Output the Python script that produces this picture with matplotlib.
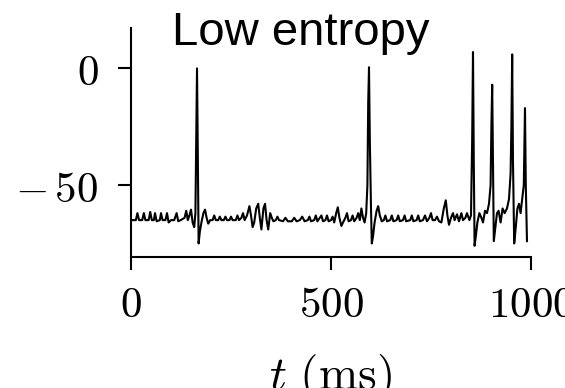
import matplotlib
matplotlib.use("Agg")
import matplotlib.pyplot as plt

plt.rcParams['mathtext.fontset'] = 'cm'

# membrane potential trace (ms, mV)
t_ms = [0, 5, 12, 16, 20, 28, 32, 36, 44, 48, 52, 57, 60, 64, 72, 75, 79, 86, 90, 94,
        100, 108, 114, 118, 124, 134, 138, 142, 146, 150, 154, 158, 161, 163, 165, 167,
        169, 172, 176, 181, 185, 189, 193, 198, 204, 208, 212, 218, 222, 226, 232, 236,
        240, 246, 250, 254, 262, 266, 270, 276, 280, 284, 290, 296, 300, 304, 308, 313,
        318, 322, 326, 331, 335, 339, 343, 348, 352, 356, 362, 366, 370, 380, 386, 392,
        402, 408, 414, 422, 428, 434, 442, 446, 450, 458, 462, 466, 472, 476, 480, 486,
        490, 494, 500, 504, 508, 513, 517, 521, 526, 530, 536, 540, 544, 550, 554, 558,
        564, 568, 572, 576, 580, 584, 588, 591, 593, 595, 597, 600, 602, 605, 609, 614,
        618, 622, 627, 632, 636, 640, 648, 652, 656, 664, 668, 672, 680, 684, 688, 698,
        702, 706, 714, 718, 722, 730, 735, 740, 746, 750, 754, 760, 765, 770, 776, 782,
        787, 791, 795, 800, 805, 809, 815, 820, 826, 830, 836, 840, 846, 850, 853, 855,
        857, 859, 862, 866, 871, 876, 880, 885, 890, 895, 899, 901, 903, 905, 907, 911,
        915, 919, 924, 929, 934, 940, 945, 949, 951, 953, 955, 958, 962, 966, 970, 974,
        978, 982, 985, 987, 990]
v_mV = [-65, -65, -65, -62, -65, -65, -62, -65, -65, -61.5, -65, -65, -62, -65.5, -65, -62, -65, -65, -62, -66,
        -65, -65, -62, -65.5, -65, -64, -61, -65, -63, -60.5, -66, -68, -62, -30, 0, -40,
        -75, -70, -66, -62, -60.5, -64, -66.5, -65, -65, -63, -65, -65, -63.5, -65, -65, -63.5,
        -65, -65, -63.5, -65, -65, -63, -65, -64, -62, -65, -63, -59, -63, -68, -66, -60,
        -58, -64, -69, -60, -58, -65, -69, -62, -64, -65.5, -65, -63.5, -65, -65.5, -64, -65.5,
        -65.5, -64, -65.5, -65, -63.5, -65.5, -65, -63.5, -65.5, -65, -63, -65.5, -64, -63, -65.5, -65,
        -63, -65.5, -65, -63.5, -66, -62, -59.5, -64, -67.5, -66, -64, -62, -65.5, -65, -63, -65.5,
        -64, -62, -65, -60, -64, -66, -62, -50, -15, 0.5, -30, -60, -75, -72, -66, -61,
        -59, -63, -65.5, -65, -63, -65.5, -65, -63, -65.5, -65, -63, -65.5, -65, -63, -65.5, -65,
        -63, -65.5, -65, -63, -65.5, -65, -63, -65.5, -64, -62, -65, -65, -63.5, -65.5, -66, -60,
        -56.5, -63, -67, -64, -62, -65, -62.5, -65.5, -62, -65, -64, -62, -65, -63, -30, 7,
        -40, -76, -72, -66, -62, -64, -66, -61, -62, -58, -50, -25, -7, -40, -74, -68,
        -62, -61, -66, -60, -62, -60, -56, -45, -25, 6, -40, -75, -68, -60, -58, -62,
        -56, -50, -17, -50, -74]

x_ticks = [0, 500, 1000]
x_labels = ['$0$', '$500$', '$1000$']
y_ticks = [0, -50]
y_labels = ['$0$', r'$-\,50$']

fig = plt.figure(figsize=(5.65, 3.88), dpi=100)
ax = fig.add_axes([0.2319, 0.3376, 0.7079, 0.5902])
ax.plot(t_ms, v_mV, color='black', lw=1.5)

ax.set_xlim(0, 1000)
ax.set_ylim(-80.8, 17.3)
ax.set_xticks(x_ticks, labels=x_labels)
ax.set_yticks(y_ticks, labels=y_labels)
ax.spines['top'].set_visible(False)
ax.spines['right'].set_visible(False)
for s in ['left', 'bottom']:
    ax.spines[s].set_linewidth(1.5)
ax.tick_params(direction='out', length=9.5, width=1.5, labelsize=31)
ax.tick_params(axis='x', pad=10)
ax.tick_params(axis='y', pad=14)

fig.text(0.533, 0.884, 'Low entropy', family='Liberation Sans', fontsize=34,
         ha='center', va='baseline')
fig.text(0.584, -0.003, r'$t\ (\mathrm{ms})$', fontsize=34, ha='center', va='baseline')

fig.savefig('out.png', dpi=100)
